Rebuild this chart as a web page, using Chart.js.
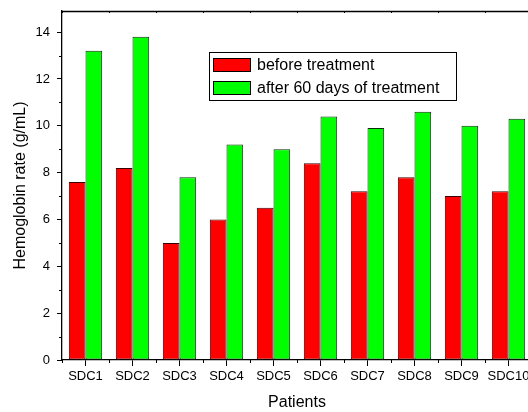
<!DOCTYPE html>
<html>
<head>
<meta charset="utf-8">
<script src="https://cdn.jsdelivr.net/npm/chart.js@4"></script>
<style>
  html, body { margin: 0; padding: 0; background: #fff; overflow: hidden; }
  canvas { display: block; }
</style>
</head>
<body>
<canvas id="hbChart" width="560" height="412"></canvas>
<script>
const patients = ["SDC1", "SDC2", "SDC3", "SDC4", "SDC5", "SDC6", "SDC7", "SDC8", "SDC9", "SDC10"];
const beforeTreatment = [7.6, 8.2, 5.0, 6.0, 6.5, 8.4, 7.2, 7.8, 7.0, 7.2];
const afterTreatment = [13.2, 13.8, 7.8, 9.2, 9.0, 10.4, 9.9, 10.6, 10.0, 10.3];
const seriesNames = ["before treatment", "after 60 days of treatment"];

const FONT = "'Liberation Sans', Arial, sans-serif";

// petits traits (minor ticks) + axe du haut + légende dans le cadre
const frameAndLegend = {
  id: "frameAndLegend",
  afterDraw: (chart) => {
    const ctx = chart.ctx;
    const area = chart.chartArea;
    const x = chart.scales.x;
    const y = chart.scales.y;
    ctx.save();
    ctx.strokeStyle = "#000";
    ctx.lineWidth = 1;

    // minor ticks on y (odd values)
    y.ticks.forEach((t) => {
      if (t.value % 2 !== 0) {
        const py = Math.round(y.getPixelForValue(t.value)) + 0.5;
        ctx.beginPath();
        ctx.moveTo(area.left, py);
        ctx.lineTo(area.left - 3, py);
        ctx.stroke();
      }
    });

    // minor ticks on x (between categories)
    for (let i = 0; i <= patients.length; i++) {
      const px = Math.round(x.getPixelForValue(i - 0.5)) + 0.5;
      ctx.beginPath();
      ctx.moveTo(px, area.bottom);
      ctx.lineTo(px, area.bottom + 3);
      ctx.stroke();
      ctx.beginPath();
      ctx.moveTo(px, area.top);
      ctx.lineTo(px, area.top + 2);
      ctx.stroke();
    }

    // top axis line
    ctx.lineWidth = 1.3;
    ctx.beginPath();
    ctx.moveTo(area.left, area.top + 0.5);
    ctx.lineTo(area.right, area.top + 0.5);
    ctx.stroke();

    // legend
    const lx = 209, ly = 52, lw = 247, lh = 48;
    ctx.lineWidth = 1;
    ctx.strokeStyle = "#000";
    ctx.strokeRect(lx + 0.5, ly + 0.5, lw, lh);
    ctx.font = `16px ${FONT}`;
    ctx.textBaseline = "middle";
    ctx.textAlign = "left";
    chart.data.datasets.forEach((ds, i) => {
      const sy = 58 + i * 23;
      ctx.fillStyle = ds.backgroundColor;
      ctx.fillRect(213, sy, 38, 14);
      ctx.strokeStyle = "#000";
      ctx.strokeRect(213.5, sy + 0.5, 37, 13);
      ctx.fillStyle = "#000";
      ctx.fillText(ds.label, 257, sy + 7.5);
    });
    ctx.restore();
  }
};

const hbChart = new Chart(document.getElementById("hbChart").getContext("2d"), {
  type: "bar",
  data: {
    labels: patients,
    datasets: [
      {
        label: seriesNames[0],
        data: beforeTreatment,
        backgroundColor: "#ff0000",
        borderColor: "#3a0000",
        borderWidth: 1,
        borderSkipped: false,
        barPercentage: 1,
        categoryPercentage: 0.71
      },
      {
        label: seriesNames[1],
        data: afterTreatment,
        backgroundColor: "#00ff00",
        borderColor: "#0a300a",
        borderWidth: 1,
        borderSkipped: false,
        barPercentage: 1,
        categoryPercentage: 0.71
      }
    ]
  },
  options: {
    responsive: false,
    animation: false,
    layout: { padding: { top: 11, right: 28, left: 0, bottom: 0 } },
    plugins: {
      legend: { display: false },
      tooltip: { enabled: false }
    },
    scales: {
      x: {
        type: "category",
        offset: true,
        grid: {
          display: true,
          offset: false,
          drawOnChartArea: false,
          tickLength: 6,
          tickColor: "#000",
          tickWidth: 1
        },
        border: { display: true, color: "#000", width: 1.3 },
        ticks: {
          color: "#000",
          font: { family: FONT, size: 13 },
          padding: 3,
          maxRotation: 0,
          autoSkip: false
        },
        title: {
          display: true,
          text: "Patients",
          color: "#000",
          font: { family: FONT, size: 16 },
          padding: { top: 0, bottom: 0 }
        },
        afterFit: (scale) => {
          scale.height = 52;
          scale.paddingLeft = 0;
          scale.paddingRight = 0;
        }
      },
      y: {
        min: 0,
        max: 14.9,
        grid: {
          display: true,
          drawOnChartArea: false,
          tickLength: 5,
          tickColor: (c) => (c.tick && c.tick.value % 2 === 0 ? "#000" : "rgba(0,0,0,0)"),
          tickWidth: 1
        },
        border: { display: true, color: "#000", width: 1.3 },
        ticks: {
          stepSize: 1,
          includeBounds: false,
          color: "#000",
          font: { family: FONT, size: 13 },
          padding: 7,
          autoSkip: false,
          callback: (v) => (v % 2 === 0 ? v : "")
        },
        title: {
          display: true,
          text: "Hemoglobin rate (g/mL)",
          color: "#000",
          font: { family: FONT, size: 16 },
          padding: { top: 11, bottom: 0 }
        },
        afterFit: (scale) => {
          scale.width = 62;
          scale.paddingTop = 0;
          scale.paddingBottom = 0;
        }
      }
    }
  },
  plugins: [frameAndLegend]
});
</script>
</body>
</html>
